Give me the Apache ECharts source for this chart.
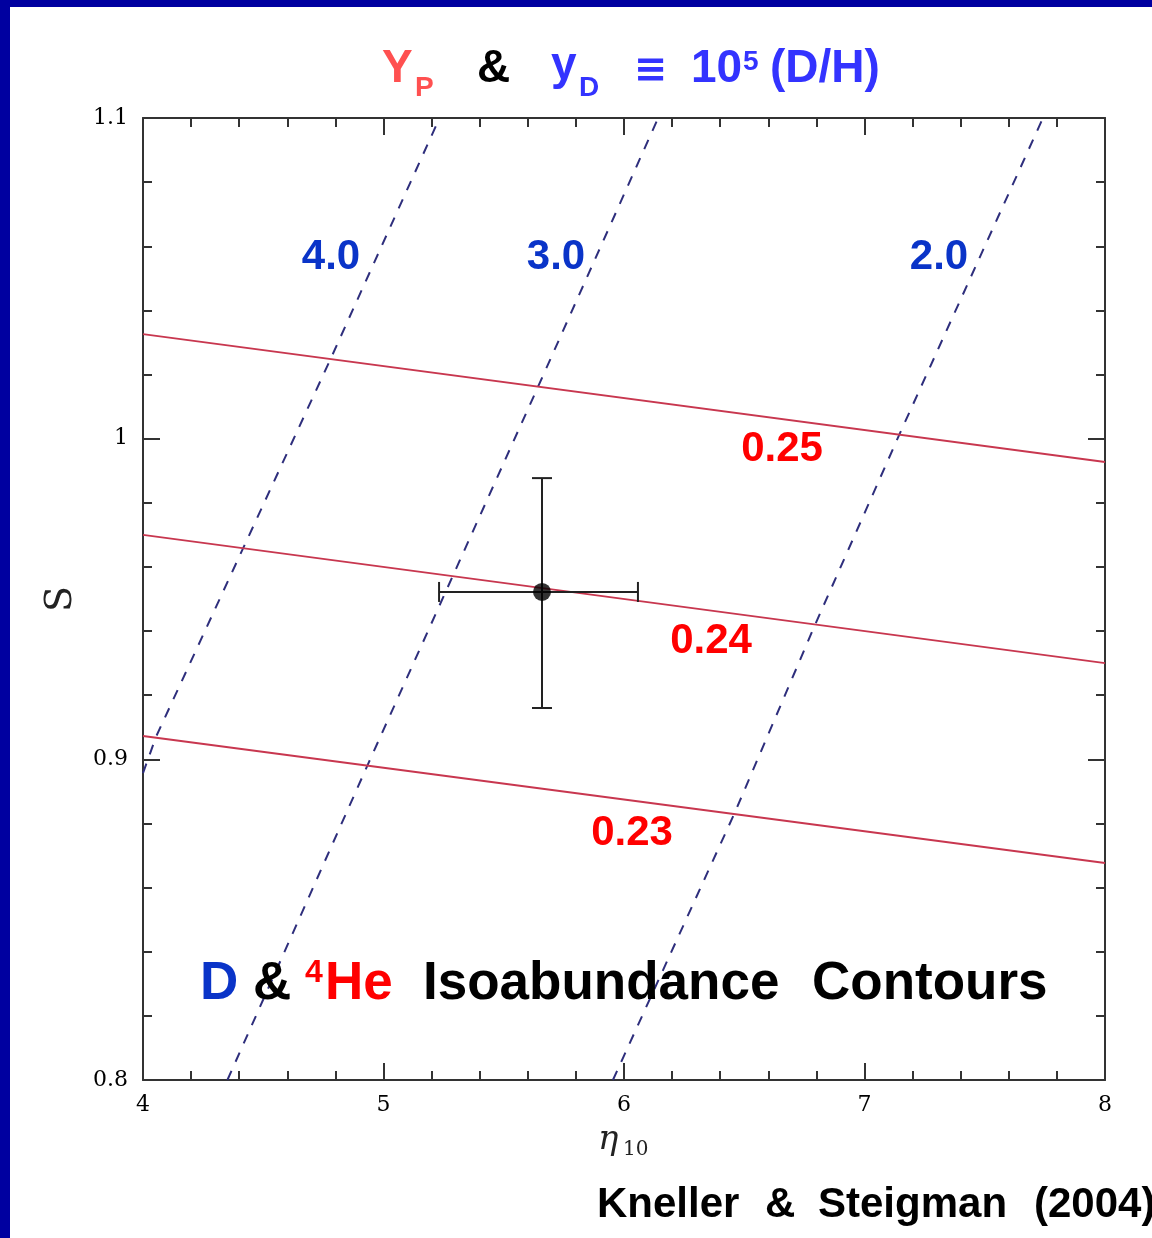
<!DOCTYPE html>
<html>
<head>
<meta charset="utf-8">
<script src="https://cdn.jsdelivr.net/npm/echarts@6/dist/echarts.min.js"></script>
<style>
html,body{margin:0;padding:0;background:#fff;}
#chart{width:1152px;height:1238px;}
</style>
</head>
<body>
<div id="chart"></div>
<script>
// ---- data ----
const xTicks = [4, 5, 6, 7, 8];
const yTicks = [0.8, 0.9, 1.0, 1.1];
// 4He isoabundance contours (Yp)
const heLevels = ['0.25', '0.24', '0.23'];
const he025 = [[4, 1.0326], [8, 0.9927]];
const he024 = [[4, 0.9700], [8, 0.9300]];
const he023 = [[4, 0.9073], [8, 0.8677]];
// D isoabundance contours (yD)
const dLevels = ['4.0', '3.0', '2.0'];
const d40 = [[4.000, 0.8957], [4.054, 0.9070], [4.782, 1.0252], [5.233, 1.1000]];
const d30 = [[4.351, 0.8000], [4.938, 0.8989], [5.642, 1.0161], [6.142, 1.1000]];
const d20 = [[5.954, 0.8000], [6.462, 0.8836], [6.794, 0.9419], [7.148, 1.0018], [7.742, 1.1000]];
// measured point with error bars: [x, y, xLow, xHigh, yLow, yHigh]
const point = [[5.659, 0.9522, 5.231, 6.058, 0.9160, 0.9877]];

const chart = echarts.init(document.getElementById('chart'), null, {renderer: 'canvas'});

const axisCommon = {
  type: 'value',
  splitLine: {show: false},
  axisLine: {onZero: false, lineStyle: {color: '#333', width: 2}},
  axisTick: {inside: true, length: 17, lineStyle: {color: '#333', width: 2}},
  minorTick: {show: true, splitNumber: 5, length: 9, lineStyle: {color: '#333', width: 2}},
  axisLabel: {fontFamily: 'DejaVu Serif', fontSize: 22, color: '#000'}
};

const heColor = '#c8374f';
const dColor = '#2e2e7c';
function heSeries(data) {
  return {type: 'line', data: data, symbol: 'none', silent: true,
    lineStyle: {color: heColor, width: 2}, z: 3};
}
function dSeries(data) {
  return {type: 'line', data: data, symbol: 'none', silent: true,
    lineStyle: {color: dColor, width: 2, type: [10, 10]}, z: 2};
}

const S = 'Liberation Sans, Arial, sans-serif';
function txt(x, y, text, size, color, fam) {
  return {type: 'text', x: x, y: y, silent: true, z: 100,
    style: {text: text, font: 'bold ' + size + 'px ' + (fam || S), fill: color,
      align: 'left', verticalAlign: 'middle'}};
}
function ctxt(x, y, text, size, color) {
  return {type: 'text', x: x, y: y, silent: true, z: 100,
    style: {text: text, font: 'bold ' + size + 'px ' + S, fill: color,
      align: 'center', verticalAlign: 'middle'}};
}

const titleRed = '#ff5050', titleBlue = '#3333ff';
const dBlue = '#0a34c8', heRed = '#ff0000';

const option = {
  backgroundColor: '#ffffff',
  animation: false,
  grid: {left: 143, top: 118, width: 962, height: 962, containLabel: false},
  xAxis: [
    Object.assign({}, axisCommon, {min: xTicks[0], max: xTicks[xTicks.length - 1], interval: 1,
      position: 'bottom', axisLabel: Object.assign({}, axisCommon.axisLabel, {margin: 14})}),
    Object.assign({}, axisCommon, {min: xTicks[0], max: xTicks[xTicks.length - 1], interval: 1,
      position: 'top', axisLabel: {show: false}})
  ],
  yAxis: [
    Object.assign({}, axisCommon, {min: yTicks[0], max: yTicks[yTicks.length - 1], interval: 0.1,
      position: 'left', axisLabel: Object.assign({}, axisCommon.axisLabel, {margin: 15}),
      name: 'S', nameLocation: 'middle', nameRotate: 90, nameGap: 63,
      nameTextStyle: {fontFamily: 'DejaVu Serif', fontSize: 38, color: '#222'}}),
    Object.assign({}, axisCommon, {min: yTicks[0], max: yTicks[yTicks.length - 1], interval: 0.1,
      position: 'right', axisLabel: {show: false}})
  ],
  series: [
    heSeries(he025), heSeries(he024), heSeries(he023),
    dSeries(d40), dSeries(d30), dSeries(d20),
    {
      type: 'custom', data: point, z: 5, silent: true,
      renderItem: function (params, api) {
        const c = api.coord([api.value(0), api.value(1)]);
        const xl = api.coord([api.value(2), api.value(1)]);
        const xh = api.coord([api.value(3), api.value(1)]);
        const yl = api.coord([api.value(0), api.value(4)]);
        const yh = api.coord([api.value(0), api.value(5)]);
        const st = {stroke: '#222', lineWidth: 2};
        const cap = 10;
        return {type: 'group', children: [
          {type: 'line', shape: {x1: xl[0], y1: c[1], x2: xh[0], y2: c[1]}, style: st},
          {type: 'line', shape: {x1: c[0], y1: yl[1], x2: c[0], y2: yh[1]}, style: st},
          {type: 'line', shape: {x1: xl[0], y1: c[1] - cap, x2: xl[0], y2: c[1] + cap}, style: st},
          {type: 'line', shape: {x1: xh[0], y1: c[1] - cap, x2: xh[0], y2: c[1] + cap}, style: st},
          {type: 'line', shape: {x1: c[0] - cap, y1: yl[1], x2: c[0] + cap, y2: yl[1]}, style: st},
          {type: 'line', shape: {x1: c[0] - cap, y1: yh[1], x2: c[0] + cap, y2: yh[1]}, style: st}
        ]};
      }
    },
    {type: 'scatter', data: point.map(p => [p[0], p[1]]), symbol: 'circle', symbolSize: 18,
      itemStyle: {color: '#000'}, z: 6, silent: true}
  ],
  graphic: [
    // frame
    {type: 'rect', shape: {x: 0, y: 0, width: 1152, height: 7}, style: {fill: '#0000a0'}, z: 200},
    {type: 'rect', shape: {x: 0, y: 0, width: 10, height: 1238}, style: {fill: '#0000a0'}, z: 200},
    // title
    txt(382, 69, 'Y', 46, titleRed),
    txt(415, 88, 'P', 28, titleRed),
    txt(477, 69, '&', 46, '#000'),
    txt(551, 66, 'y', 46, titleBlue),
    txt(579, 88, 'D', 28, titleBlue),
    txt(634, 72, '≡', 40, titleBlue, 'DejaVu Sans, sans-serif'),
    txt(691, 69, '10', 46, titleBlue),
    txt(743, 62, '5', 28, titleBlue),
    txt(770, 69, '(D/H)', 46, titleBlue),
    // contour labels
    ctxt(331, 257, dLevels[0], 42, dBlue),
    ctxt(556, 257, dLevels[1], 42, dBlue),
    ctxt(939, 257, dLevels[2], 42, dBlue),
    ctxt(782, 449, heLevels[0], 42, heRed),
    ctxt(711, 641, heLevels[1], 42, heRed),
    ctxt(632, 833, heLevels[2], 42, heRed),
    // inner caption
    txt(200, 984, 'D', 53, dBlue),
    txt(253, 984, '&', 53, '#000'),
    txt(305, 973, '4', 32, heRed),
    txt(325, 984, 'He', 53, heRed),
    txt(423, 984, 'Isoabundance', 53, '#000'),
    txt(812, 984, 'Contours', 53, '#000'),
    // x axis name
    {type: 'text', x: 598, y: 1140, silent: true,
      style: {text: 'η', font: 'italic 34px DejaVu Serif, serif', fill: '#222', align: 'left', verticalAlign: 'middle'}},
    {type: 'text', x: 623, y: 1150, silent: true,
      style: {text: '10', font: '20px DejaVu Serif, serif', fill: '#222', align: 'left', verticalAlign: 'middle'}},
    // citation
    txt(597, 1205, 'Kneller', 42, '#000'),
    txt(765, 1205, '&', 42, '#000'),
    txt(818, 1205, 'Steigman', 42, '#000'),
    txt(1034, 1205, '(2004)', 42, '#000')
  ]
};
chart.setOption(option);
</script>
</body>
</html>
